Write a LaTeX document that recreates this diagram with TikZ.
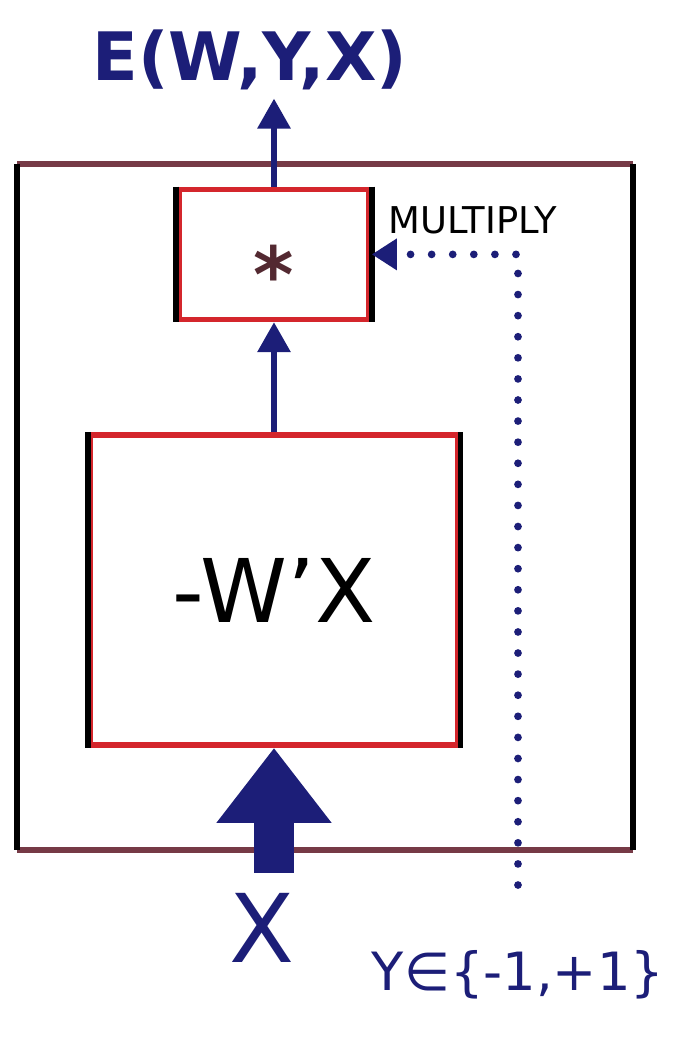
\documentclass[tikz,border=0pt]{standalone}
\usepackage{fontspec}
\setmainfont{DejaVu Sans}
\usetikzlibrary{arrows.meta, positioning}
\definecolor{inkblue}{RGB}{28,30,120}
\definecolor{boxred}{RGB}{212,38,44}
\definecolor{framebrown}{RGB}{118,58,70}

\begin{document}
\begin{tikzpicture}[
    node distance=1.1cm,
    block/.style={rectangle, draw=boxred, line width=1.6pt, inner sep=0pt},
    side/.style={line width=1.6pt, black},
    arrow/.style={-{Triangle[length=3mm, width=3.2mm]}, line width=1.8pt, inkblue},
    label/.style={text=inkblue}
]
\useasboundingbox (0,0) rectangle (6.73,-10.38);

% outer frame
\node[rectangle, minimum width=6.14cm, minimum height=6.85cm, inner sep=0pt] (frame) at (3.25,-5.07) {};
\draw[framebrown, line width=1.6pt] (frame.north west) -- (frame.north east);
\draw[framebrown, line width=1.6pt] (frame.south west) -- (frame.south east);
\draw[side] (frame.north west) -- (frame.south west);
\draw[side] (frame.north east) -- (frame.south east);

\node[block, minimum width=3.67cm, minimum height=3.10cm, font=\fontsize{25}{28}\selectfont] (lin) at (2.74,-5.90) {-W'X};
\node[block, above=of lin, minimum width=1.90cm, minimum height=1.30cm, font=\fontsize{22}{24}\selectfont\bfseries, text=framebrown!70!black] (mult) {\raisebox{-4.8mm}[0pt][0pt]{*}};
\draw[side] (lin.north west) -- (lin.south west);
\draw[side] (lin.north east) -- (lin.south east);
\draw[side] (mult.north west) -- (mult.south west);
\draw[side] (mult.north east) -- (mult.south east);

\node[font=\fontsize{10.5}{12}\selectfont, anchor=west] (mullabel) at (3.76,-2.20) {MULTIPLY};
\node[label, font=\fontsize{19}{22}\selectfont\bfseries] (energy) at (2.50,-0.60) {E(W,Y,X)};
\coordinate[above=0.88cm of mult.north] (out);

\node[label, font=\fontsize{27}{30}\selectfont] (xin) at (2.62,-9.28) {X};
\node[label, font=\fontsize{15}{18}\selectfont] (yin) at (5.18,-9.75) {Y∈\{-1,+1\}};
\coordinate[below=1.25cm of lin.south] (xstart);
\coordinate (ystart) at (5.18,-8.85);

\draw[arrow] (mult.north) -- (out);
\draw[arrow] (lin.north) -- (mult.south);
\draw[-{Triangle[length=7.5mm, width=11mm]}, line width=4mm, inkblue] (xstart) -- (lin.south);
\draw[inkblue, line width=2.2pt, line cap=round, dash pattern=on 0pt off 6pt, -{Triangle[length=2.5mm, width=3mm]}] (ystart) |- (mult.east);

\end{tikzpicture}
\end{document}
